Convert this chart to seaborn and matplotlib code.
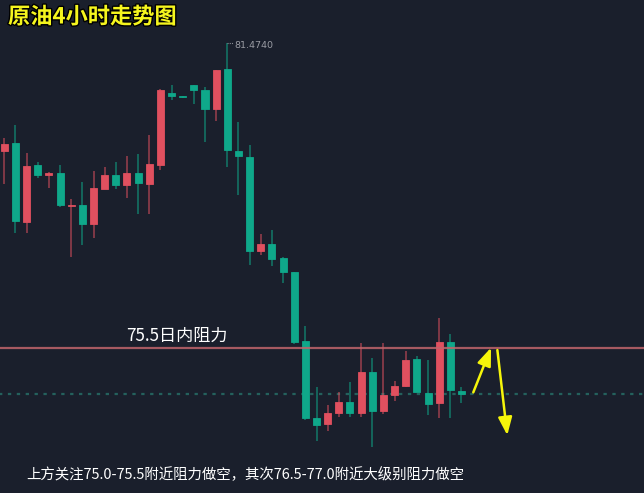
import numpy as np
import pandas as pd
import matplotlib
matplotlib.use("Agg")
import matplotlib.pyplot as plt
import matplotlib.patheffects as pe
import seaborn as sns

# ---- data (4h candles, oldest -> newest) ----
opens  = [79.37, 79.52, 77.98, 79.09, 78.89, 78.93, 78.28, 78.30, 77.94, 78.62,
          78.89, 78.70, 78.94, 78.72, 79.09, 80.51, 80.45, 80.66, 80.56, 80.19,
          80.97, 79.36, 79.25, 77.41, 77.53, 77.26, 76.99, 75.64, 74.13, 74.01,
          74.22, 74.44, 74.23, 75.03, 74.26, 74.58, 74.75, 75.28, 74.61, 74.43,
          75.62, 74.66]
highs  = [79.62, 79.87, 79.33, 79.15, 78.95, 79.09, 78.42, 78.76, 78.98, 79.04,
          79.15, 79.26, 79.30, 79.68, 80.57, 80.65, 80.45, 80.66, 80.62, 80.96,
          81.474, 79.94, 79.49, 77.74, 77.81, 77.28, 76.99, 75.93, 74.74, 74.38,
          74.64, 74.84, 75.60, 75.30, 75.60, 74.86, 75.45, 75.34, 75.26, 76.09,
          75.77, 74.73]
lows   = [78.72, 77.76, 77.75, 78.84, 78.64, 78.27, 77.29, 77.52, 77.65, 78.62,
          78.62, 78.44, 78.12, 78.13, 79.00, 80.37, 80.41, 80.29, 79.53, 79.95,
          79.05, 78.50, 77.13, 77.33, 77.10, 76.77, 75.58, 74.09, 73.68, 73.88,
          74.15, 74.14, 74.14, 73.55, 74.21, 74.47, 74.73, 74.63, 74.18, 74.12,
          74.12, 74.43]
closes = [79.51, 77.99, 79.07, 78.89, 78.93, 78.30, 78.29, 77.94, 78.64, 78.89,
          78.70, 78.93, 78.73, 79.10, 80.56, 80.44, 80.42, 80.55, 80.18, 80.95,
          79.38, 79.26, 77.40, 77.53, 77.25, 77.00, 75.62, 74.13, 74.00, 74.23,
          74.45, 74.22, 75.03, 74.27, 74.57, 74.76, 75.27, 74.63, 74.41, 75.61,
          74.67, 74.59]
resistance = 75.5
high_label = "81.4740"
title = "原油4小时走势图"
res_label = "75.5日内阻力"
note = "上方关注75.0-75.5附近阻力做空，其次76.5-77.0附近大级别阻力做空"

df = pd.DataFrame({"open": opens, "high": highs, "low": lows, "close": closes})
df["idx"] = np.arange(len(df))
df["up"] = df["close"] >= df["open"]

BG = "#1a1f2c"
RED = "#e0505f"
GREEN = "#0fa88a"

sns.set_theme(style="dark", rc={"axes.facecolor": BG, "figure.facecolor": BG})
plt.rcParams["font.family"] = ["Noto Sans CJK SC", "DejaVu Sans"]

fig = plt.figure(figsize=(6.44, 4.93), dpi=100)
ax = fig.add_axes([0, 0, 1, 1])
ax.set_facecolor(BG)

colors = np.where(df["up"], RED, GREEN)

# wicks
ax.vlines(df["idx"], df["low"], df["high"], colors=colors, linewidth=1.3, alpha=0.55, zorder=2)
# bodies
bottoms = np.minimum(df["open"], df["close"])
heights = np.maximum(np.abs(df["close"] - df["open"]), 0.03)
ax.bar(df["idx"], heights, bottom=bottoms, width=0.63, color=colors,
       edgecolor=colors, linewidth=0.6, zorder=3)

# resistance line and last price line
ax.axhline(resistance, color="#c0646b", linewidth=1.6, alpha=0.85, zorder=4)
sns.lineplot(x=[-5, 80], y=[closes[-1], closes[-1]], ax=ax, color="#24615d",
             linewidth=1.6, linestyle=(0, (1.5, 2.5)), zorder=1)

# axes limits (pixel-aligned)
ax.set_xlim(-0.386, 57.37)
ax.set_ylim(72.657, 82.324)
ax.set_xticks([]); ax.set_yticks([])
for s in ax.spines.values():
    s.set_visible(False)
ax.grid(False)

# high label
hi_i = int(np.argmax(highs))
ax.plot([hi_i, hi_i + 0.55], [highs[hi_i], highs[hi_i]], color="#8a8d96",
        linewidth=0.8, linestyle=(0, (1, 1)), zorder=4)
ax.text(hi_i + 0.6, highs[hi_i] - 0.04, high_label, color="#9a9ca4", fontsize=6.8,
        va="center", ha="left", family=["DejaVu Sans"])

# arrows
arrow_kw = dict(arrowstyle="-|>,head_length=0.9,head_width=0.35", color="#f5f50a",
                linewidth=1.8, shrinkA=0, shrinkB=0)
ax.annotate("", xy=(43.65, 75.506), xytext=(42.06, 74.63), arrowprops=arrow_kw, zorder=5)
ax.annotate("", xy=(45.11, 73.79), xytext=(44.22, 75.46), arrowprops=arrow_kw, zorder=5)

# texts
fig.text(8 / 644, 1 - 17 / 493, title, color="#f5f51e", fontsize=16, fontweight="bold",
         va="center", ha="left",
         path_effects=[pe.withStroke(linewidth=2, foreground="#000000")])
fig.text(126 / 644, 1 - 336 / 493, res_label, color="#ffffff", fontsize=12.3,
         va="center", ha="left")
fig.text(26 / 644, 1 - 475 / 493, note, color="#ffffff", fontsize=10.4,
         va="center", ha="left")

fig.savefig("out.png", dpi=100, facecolor=BG)
